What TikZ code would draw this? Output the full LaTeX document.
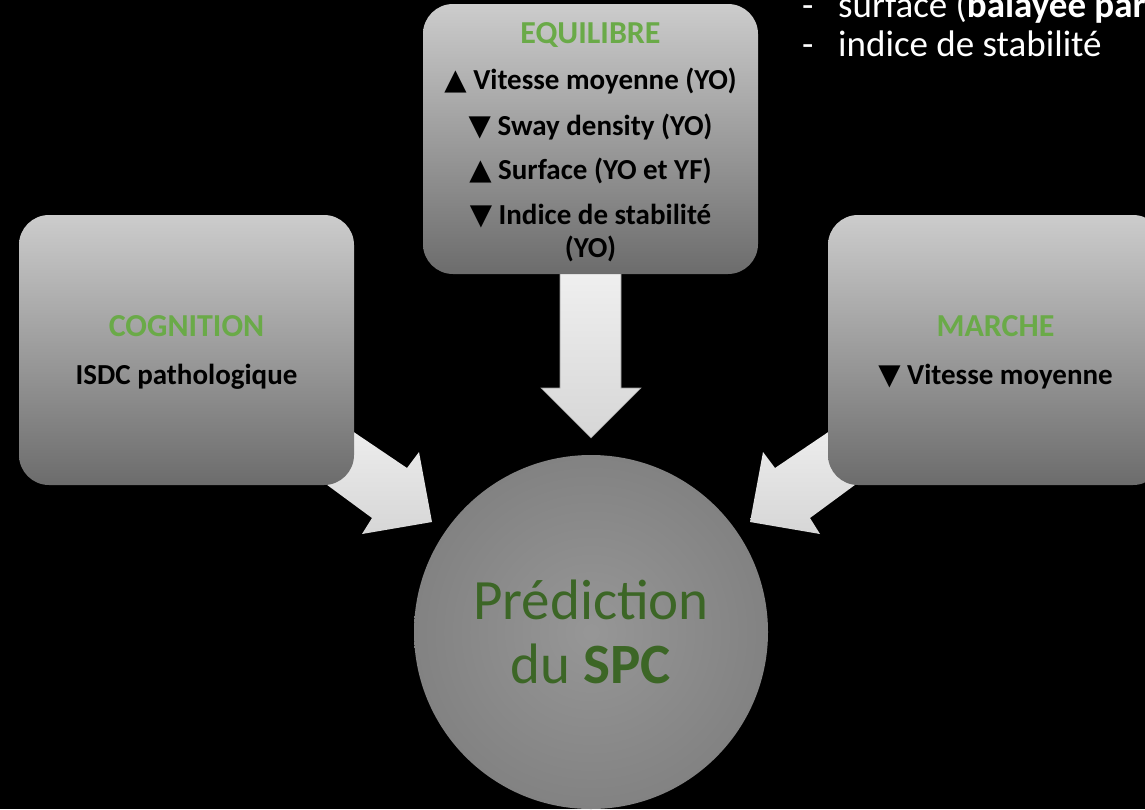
\documentclass[tikz,border=0pt]{standalone}
\usepackage{fontspec}
\setmainfont{Carlito}
\newfontfamily\symfont{DejaVu Sans}
\definecolor{headgreen}{RGB}{106,170,72}
\definecolor{spcgreen}{RGB}{60,102,38}
\definecolor{boxtop}{RGB}{204,204,204}
\definecolor{boxbot}{RGB}{108,108,108}
\definecolor{arrtop}{RGB}{240,240,240}
\definecolor{arrbot}{RGB}{214,214,214}
\newcommand{\upmark}{{\symfont ▲}}
\newcommand{\downmark}{{\symfont ▼}}
\newcommand{\headline}[1]{{\fontsize{32}{33}\selectfont\textcolor{headgreen}{#1}}}

\begin{document}
\begin{tikzpicture}[x=1pt,y=-1pt,
  panel/.style={rounded corners=30pt, top color=boxtop, bottom color=boxbot,
    minimum width=335pt, minimum height=270pt},
  paneltext/.style={align=center, text=black, font=\fontsize{29}{33}\selectfont\bfseries},
  bigarrow/.style={top color=arrtop, bottom color=arrbot, draw=gray!80, line width=0.6pt},
  result/.style={circle, minimum size=354pt, inner sep=0pt, shading=radial,
    inner color=black!41, outer color=black!49, align=center, text=spcgreen,
    font=\fontsize{57}{64}\selectfont},
  note/.style={anchor=base west, text=white, inner sep=0pt,
    font=\fontsize{37}{40}\selectfont}]
  \fill[black] (0,0) rectangle (1145,809);
  \useasboundingbox (0,0) rectangle (1145,809);

  % arrows first, the panels sit on top of them
  \draw[bigarrow] (560,268) -- (560,388) -- (541,388) -- (591,438) -- (641,388) -- (621,388) -- (621,268) -- cycle;
  \draw[bigarrow, draw=none] (330,416) -- (407,468) -- (419,452) -- (432,522) -- (362,534) -- (372,518) -- (300,465) -- cycle;
  \draw[bigarrow, draw=none] (852,416) -- (775,468) -- (763,452) -- (750,522) -- (820,534) -- (810,518) -- (882,465) -- cycle;

  \node[panel] (equilibre) at (590.5,139) {};
  \node[paneltext] (eqtext) at (590.5,142.5) {\headline{EQUILIBRE}\\[13pt]
    \upmark{} Vitesse moyenne (YO)\\[13pt]
    \downmark{} Sway density (YO)\\[11pt]
    \upmark{} Surface (YO et YF)\\[12pt]
    \downmark{} Indice de stabilité\\
    (YO)};
  \node[panel] (cognition) at (186.5,350) {};
  \node[paneltext] (cogtext) at (186.5,352) {\headline{COGNITION}\\[15pt]
    ISDC pathologique};
  \node[panel] (marche) at (995.5,350) {};
  \node[paneltext] (martext) at (995.5,352) {\headline{MARCHE}\\[15pt]
    \downmark{} Vitesse moyenne};

  \node[result] (spc) at (591,632) {Prédiction\\du \textbf{SPC}};

  \node[note] (dash1) at (802,17) {-};
  \node[note] (surf) at (838,17) {surface (\textbf{balayée par}};
  \node[note] (dash2) at (802,56) {-};
  \node[note] (indice) at (838,56) {indice de stabilité};
\end{tikzpicture}
\end{document}
